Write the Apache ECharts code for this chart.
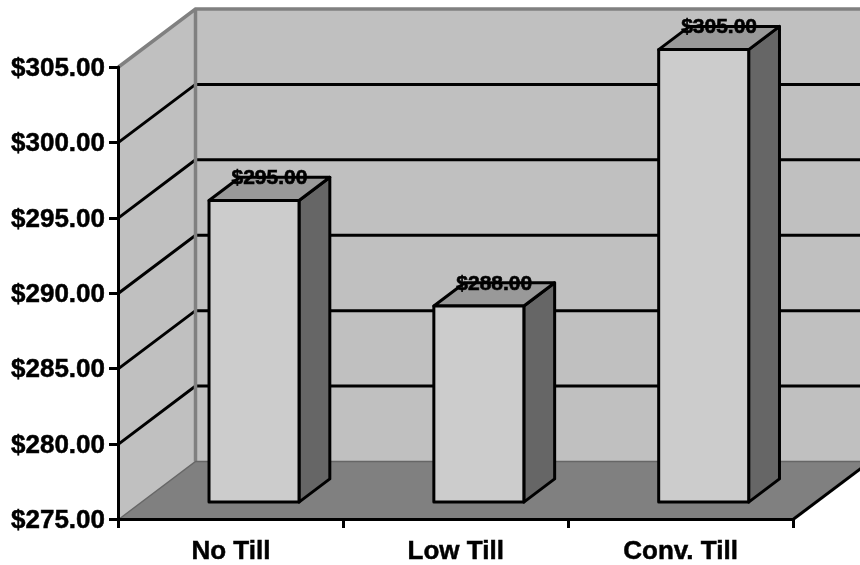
<!DOCTYPE html>
<html>
<head>
<meta charset="utf-8">
<style>
html, body { margin: 0; padding: 0; background: #fff; }
#chart { width: 860px; height: 565px; }
</style>
<script src="https://cdn.jsdelivr.net/npm/echarts@6/dist/echarts.min.js"></script>
</head>
<body>
<div id="chart"></div>
<script>
var categories = ['No Till', 'Low Till', 'Conv. Till'];
var costs = [295, 288, 305];
var gridValues = [280, 285, 290, 295, 300];
var axisMin = 275;
var axisMax = 305;
var axisStep = 5;

// how far the "box" goes back, in pixels
var depthX = 77;
var depthY = -58;
var barWidth = 90;
var barFront = 0.3;
var barBack = 0.7;

function money(v) {
	return '$' + v.toFixed(2);
}

/* walls, floor and the slanted grid lines */
function renderWalls(params, api) {
	var box = params.coordSys;
	var left = box.x, right = box.x + box.width;
	var top = box.y, bottom = box.y + box.height;
	var kids = [
		{ type: 'polygon', shape: { points: [[left, top], [left + depthX, top + depthY], [left + depthX, bottom + depthY], [left, bottom]] },
			style: { fill: '#c0c0c0', stroke: null } },
		{ type: 'polygon', shape: { points: [[left + depthX, top + depthY], [right + depthX, top + depthY], [right + depthX, bottom + depthY], [left + depthX, bottom + depthY]] },
			style: { fill: '#c0c0c0', stroke: null } },
		{ type: 'polygon', shape: { points: [[left, bottom], [right, bottom], [right + depthX, bottom + depthY], [left + depthX, bottom + depthY]] },
			style: { fill: '#808080', stroke: null } }
	];
	gridValues.forEach(function (v) {
		var y = api.coord([0, v])[1];
		kids.push({ type: 'polyline', shape: { points: [[left, y], [left + depthX, y + depthY], [right + depthX, y + depthY]] },
			style: { fill: null, stroke: '#000', lineWidth: 3 } });
	});
	// grey edges
	kids.push({ type: 'polyline', shape: { points: [[left, top], [left + depthX, top + depthY], [right + depthX, top + depthY]] },
		style: { fill: null, stroke: '#808080', lineWidth: 3.5 } });
	kids.push({ type: 'polyline', shape: { points: [[left + depthX, top + depthY], [left + depthX, bottom + depthY]] },
		style: { fill: null, stroke: '#808080', lineWidth: 3.5 } });
	kids.push({ type: 'polyline', shape: { points: [[left, bottom], [left + depthX, bottom + depthY], [right + depthX, bottom + depthY]] },
		style: { fill: null, stroke: '#666', lineWidth: 1.5 } });
	// black front edge of the floor on the right
	kids.push({ type: 'polyline', shape: { points: [[right, bottom], [right + depthX, bottom + depthY]] },
		style: { fill: null, stroke: '#000', lineWidth: 3 } });
	return { type: 'group', children: kids };
}

/* one 3d bar with its label */
function renderBar(params, api) {
	var i = api.value(0);
	var val = api.value(1);
	var pt = api.coord([i, val]);
	var base = api.coord([i, axisMin]);
	var x0 = pt[0] + depthX * barFront - barWidth / 2;
	var x1 = x0 + barWidth;
	var yTop = pt[1] + depthY * barFront;
	var yBot = base[1] + depthY * barFront;
	var dx = depthX * (barBack - barFront);
	var dy = depthY * (barBack - barFront);
	var edge = { stroke: '#000', lineWidth: 3, lineJoin: 'round' };
	return {
		type: 'group',
		children: [
			{ type: 'polygon', shape: { points: [[x1, yTop], [x1 + dx, yTop + dy], [x1 + dx, yBot + dy], [x1, yBot]] },
				style: Object.assign({ fill: '#666666' }, edge) },
			{ type: 'polygon', shape: { points: [[x0, yTop], [x0 + dx, yTop + dy], [x1 + dx, yTop + dy], [x1, yTop]] },
				style: Object.assign({ fill: '#999999' }, edge) },
			{ type: 'rect', shape: { x: x0, y: yTop, width: barWidth, height: yBot - yTop },
				style: Object.assign({ fill: '#cccccc' }, edge) },
			{ type: 'text', z2: 10, style: { text: money(val), x: x0 + (barWidth + dx) / 2, y: yTop + dy + 1,
				align: 'center', verticalAlign: 'middle', fill: '#000',
				stroke: '#000', lineWidth: 0.6,
				font: 'bold 21px "Liberation Sans", Arial, sans-serif' } }
		]
	};
}

var chart = echarts.init(document.getElementById('chart'));
var labelFont = { fontFamily: '"Liberation Sans", Arial, sans-serif', fontWeight: 'bold', fontSize: 26, color: '#000',
	textBorderColor: '#000', textBorderWidth: 0.5 };
var axisStroke = { color: '#000', width: 3 };

chart.setOption({
	animation: false,
	backgroundColor: '#fff',
	grid: { left: 118.5, right: 67, top: 67, bottom: 45.5 },
	xAxis: {
		type: 'category',
		data: categories,
		z: 5,
		axisLine: { lineStyle: axisStroke },
		axisTick: { show: true, length: 8.5, lineStyle: axisStroke },
		axisLabel: Object.assign({ margin: 19, interval: 0 }, labelFont),
		splitLine: { show: false }
	},
	yAxis: {
		type: 'value',
		min: axisMin,
		max: axisMax,
		interval: axisStep,
		z: 5,
		axisLine: { show: true, lineStyle: axisStroke },
		axisTick: { show: true, length: 9.5, lineStyle: axisStroke },
		axisLabel: Object.assign({
			margin: 13.5,
			formatter: function (v) { return '{tick|' + money(v) + '}'; },
			rich: { tick: Object.assign({ padding: [3, 0, 0, 0] }, labelFont) }
		}, labelFont),
		splitLine: { show: false }
	},
	series: [
		{ type: 'custom', z: 0, silent: true, clip: false, renderItem: renderWalls, data: [[0, axisMin]] },
		{ type: 'custom', z: 2, silent: true, clip: false, renderItem: renderBar,
			data: costs.map(function (v, i) { return [i, v]; }) }
	]
});
</script>
</body>
</html>
